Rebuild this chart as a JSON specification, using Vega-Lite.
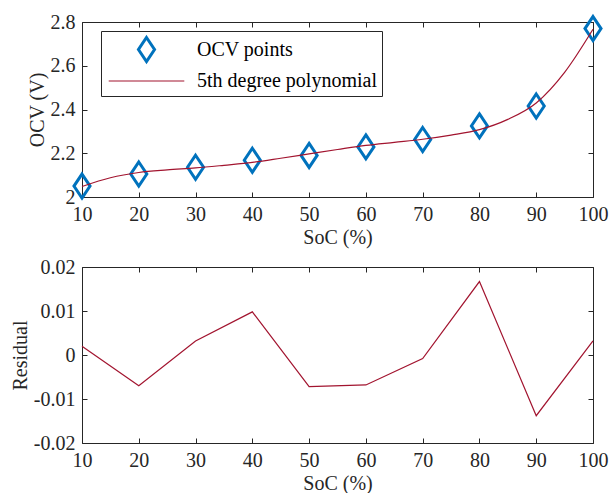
{
  "$schema": "https://vega.github.io/schema/vega-lite/v6.json",
  "padding": {"left": 10, "top": 10, "right": 5, "bottom": 5},
  "spacing": 10,
  "config": {
    "font": "Liberation Serif",
    "view": {"stroke": null},
    "style": {
      "guide-label": {"font": "Liberation Serif", "fontSize": 20},
      "guide-title": {"font": "Liberation Serif", "fontSize": 20}
    },
    "axis": {
      "grid": false,
      "labelFont": "Liberation Serif",
      "titleFont": "Liberation Serif",
      "labelFontSize": 20,
      "titleFontSize": 20,
      "titleFontWeight": "normal",
      "labelColor": "#262626",
      "titleColor": "#262626",
      "domainColor": "#262626",
      "tickColor": "#262626",
      "domainWidth": 1,
      "tickWidth": 1,
      "tickSize": -5,
      "labelPadding": 12,
      "titlePadding": 3,
      "labelFlush": false,
      "labelOverlap": false
    }
  },
  "datasets": {
    "points": [
      {"SoC": 10, "OCV": 2.050, "series": "OCV points"},
      {"SoC": 20, "OCV": 2.105, "series": "OCV points"},
      {"SoC": 30, "OCV": 2.136, "series": "OCV points"},
      {"SoC": 40, "OCV": 2.168, "series": "OCV points"},
      {"SoC": 50, "OCV": 2.190, "series": "OCV points"},
      {"SoC": 60, "OCV": 2.229, "series": "OCV points"},
      {"SoC": 70, "OCV": 2.263, "series": "OCV points"},
      {"SoC": 80, "OCV": 2.325, "series": "OCV points"},
      {"SoC": 90, "OCV": 2.416, "series": "OCV points"},
      {"SoC": 100, "OCV": 2.770, "series": "OCV points"}
    ],
    "curve": [
      {"SoC": 10, "OCV": 2.048, "series": "5th degree polynomial"},
      {"SoC": 15, "OCV": 2.088, "series": "5th degree polynomial"},
      {"SoC": 20, "OCV": 2.112, "series": "5th degree polynomial"},
      {"SoC": 25, "OCV": 2.124, "series": "5th degree polynomial"},
      {"SoC": 30, "OCV": 2.133, "series": "5th degree polynomial"},
      {"SoC": 35, "OCV": 2.145, "series": "5th degree polynomial"},
      {"SoC": 40, "OCV": 2.158, "series": "5th degree polynomial"},
      {"SoC": 45, "OCV": 2.177, "series": "5th degree polynomial"},
      {"SoC": 50, "OCV": 2.197, "series": "5th degree polynomial"},
      {"SoC": 55, "OCV": 2.217, "series": "5th degree polynomial"},
      {"SoC": 60, "OCV": 2.236, "series": "5th degree polynomial"},
      {"SoC": 65, "OCV": 2.250, "series": "5th degree polynomial"},
      {"SoC": 70, "OCV": 2.264, "series": "5th degree polynomial"},
      {"SoC": 75, "OCV": 2.283, "series": "5th degree polynomial"},
      {"SoC": 80, "OCV": 2.308, "series": "5th degree polynomial"},
      {"SoC": 85, "OCV": 2.355, "series": "5th degree polynomial"},
      {"SoC": 90, "OCV": 2.430, "series": "5th degree polynomial"},
      {"SoC": 95, "OCV": 2.570, "series": "5th degree polynomial"},
      {"SoC": 100, "OCV": 2.767, "series": "5th degree polynomial"}
    ],
    "residual": [
      {"SoC": 10, "Residual": 0.0020},
      {"SoC": 20, "Residual": -0.0070},
      {"SoC": 30, "Residual": 0.0032},
      {"SoC": 40, "Residual": 0.0098},
      {"SoC": 50, "Residual": -0.0072},
      {"SoC": 60, "Residual": -0.0068},
      {"SoC": 70, "Residual": -0.0008},
      {"SoC": 80, "Residual": 0.0167},
      {"SoC": 90, "Residual": -0.0138},
      {"SoC": 100, "Residual": 0.0032}
    ]
  },
  "vconcat": [
    {
      "width": 511,
      "height": 175,
      "layer": [
        {
          "data": {"name": "points"},
          "mark": {"type": "point", "size": 576, "filled": false, "opacity": 1},
          "encoding": {
            "x": {"field": "SoC", "type": "quantitative", "scale": {"domain": [10, 100], "nice": false}, "axis": {"title": "SoC (%)", "values": [10, 20, 30, 40, 50, 60, 70, 80, 90, 100]}},
            "y": {"field": "OCV", "type": "quantitative", "scale": {"domain": [2, 2.8], "nice": false, "zero": false}, "axis": {"title": "OCV (V)", "values": [2, 2.2, 2.4, 2.6, 2.8], "labelExpr": "format(datum.value, '~g')"}},
            "shape": {
              "field": "series", "type": "nominal",
              "scale": {"domain": ["OCV points", "5th degree polynomial"], "range": ["M0,-1L0.67,0L0,1L-0.67,0Z", "M-3.15,0H3.15"]}
            },
            "strokeWidth": {
              "field": "series", "type": "nominal",
              "scale": {"domain": ["OCV points", "5th degree polynomial"], "range": [3, 1.2]}
            },
            "color": {
              "field": "series", "type": "nominal",
              "scale": {"domain": ["OCV points", "5th degree polynomial"], "range": ["#0072BD", "#A2142F"]},
              "legend": {
                "title": null,
                "orient": "none",
                "legendX": 19,
                "legendY": 9,
                "padding": 5,
                "strokeColor": "#262626",
                "fillColor": "white",
                "labelFont": "Liberation Serif",
                "labelFontSize": 20,
                "labelColor": "#000000",
                "labelLimit": 0,
                "symbolSize": 576,
                "symbolOffset": 27,
                "labelOffset": 37,
                "rowPadding": -12
              }
            }
          }
        },
        {
          "data": {"name": "curve"},
          "mark": {"type": "line", "interpolate": "monotone", "strokeWidth": 1.2},
          "encoding": {
            "x": {"field": "SoC", "type": "quantitative", "axis": null},
            "y": {"field": "OCV", "type": "quantitative", "axis": null},
            "color": {"field": "series", "type": "nominal"}
          }
        },
        {
          "data": {"name": "points"},
          "mark": {"type": "point", "opacity": 0},
          "encoding": {
            "x": {"field": "SoC", "type": "quantitative", "axis": {"orient": "top", "labels": false, "title": null, "values": [10, 20, 30, 40, 50, 60, 70, 80, 90, 100]}},
            "y": {"field": "OCV", "type": "quantitative", "axis": {"orient": "right", "labels": false, "title": null, "values": [2, 2.2, 2.4, 2.6, 2.8]}}
          }
        }
      ],
      "resolve": {"axis": {"x": "independent", "y": "independent"}}
    },
    {
      "width": 511,
      "height": 176,
      "data": {"name": "residual"},
      "layer": [
        {
          "mark": {"type": "line", "color": "#A2142F", "strokeWidth": 1.2},
          "encoding": {
            "x": {"field": "SoC", "type": "quantitative", "scale": {"domain": [10, 100], "nice": false}, "axis": {"title": "SoC (%)", "values": [10, 20, 30, 40, 50, 60, 70, 80, 90, 100]}},
            "y": {"field": "Residual", "type": "quantitative", "scale": {"domain": [-0.02, 0.02], "nice": false}, "axis": {"title": "Residual", "values": [-0.02, -0.01, 0, 0.01, 0.02], "labelExpr": "replace(format(datum.value, '~g'), '−', '-')"}}
          }
        },
        {
          "mark": {"type": "point", "opacity": 0},
          "encoding": {
            "x": {"field": "SoC", "type": "quantitative", "axis": {"orient": "top", "labels": false, "title": null, "values": [10, 20, 30, 40, 50, 60, 70, 80, 90, 100]}},
            "y": {"field": "Residual", "type": "quantitative", "axis": {"orient": "right", "labels": false, "title": null, "values": [-0.02, -0.01, 0, 0.01, 0.02]}}
          }
        }
      ],
      "resolve": {"axis": {"x": "independent", "y": "independent"}}
    }
  ]
}
